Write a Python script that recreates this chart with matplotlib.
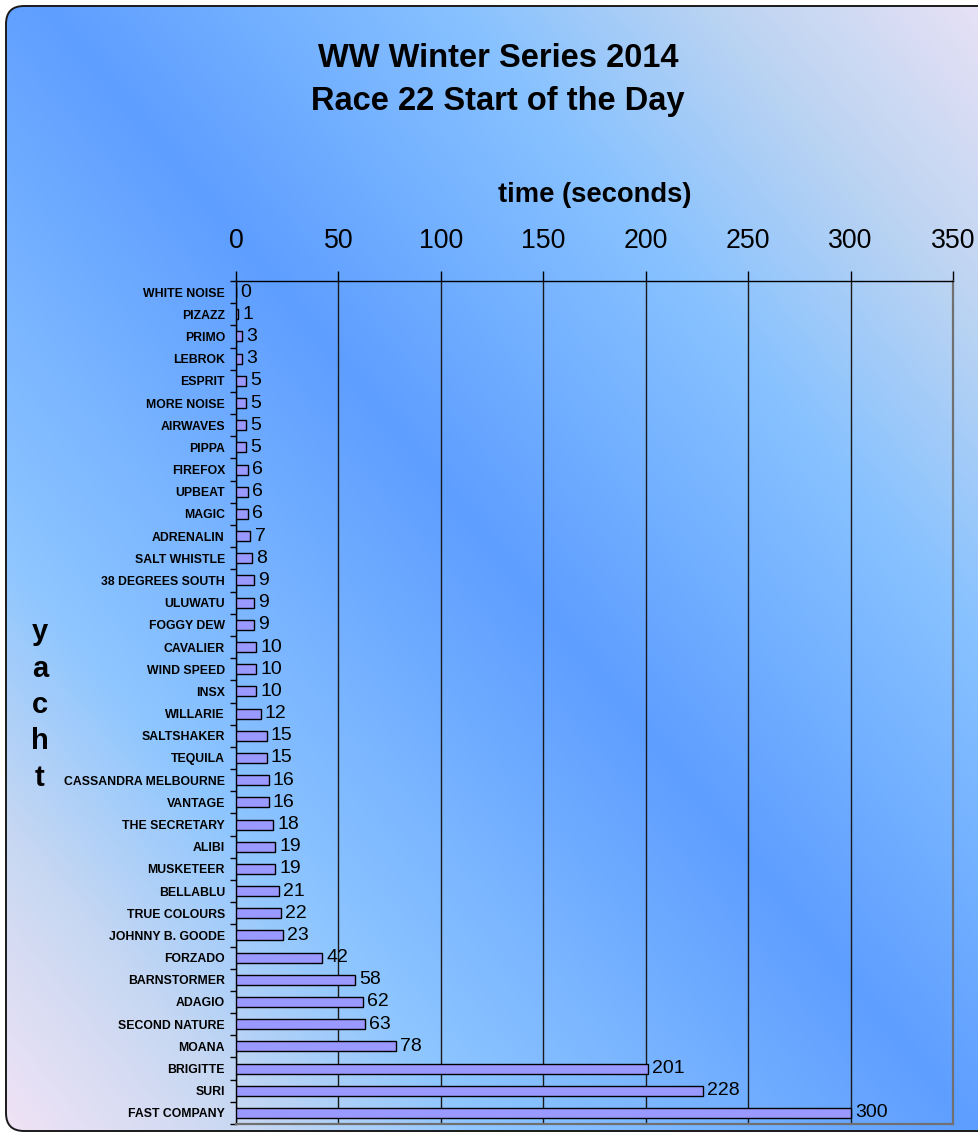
import numpy as np
import matplotlib
matplotlib.use("Agg")
import matplotlib.pyplot as plt
from matplotlib.patches import FancyBboxPatch
from matplotlib.colors import to_rgb

plt.rcParams['font.family'] = ['Liberation Sans', 'DejaVu Sans']

yachts = ["WHITE NOISE", "PIZAZZ", "PRIMO", "LEBROK", "ESPRIT", "MORE NOISE",
          "AIRWAVES", "PIPPA", "FIREFOX", "UPBEAT", "MAGIC", "ADRENALIN",
          "SALT WHISTLE", "38 DEGREES SOUTH", "ULUWATU", "FOGGY DEW", "CAVALIER",
          "WIND SPEED", "INSX", "WILLARIE", "SALTSHAKER", "TEQUILA",
          "CASSANDRA MELBOURNE", "VANTAGE", "THE SECRETARY", "ALIBI", "MUSKETEER",
          "BELLABLU", "TRUE COLOURS", "JOHNNY B. GOODE", "FORZADO", "BARNSTORMER",
          "ADAGIO", "SECOND NATURE", "MOANA", "BRIGITTE", "SURI", "FAST COMPANY"]
seconds = [0, 1, 3, 3, 5, 5, 5, 5, 6, 6, 6, 7, 8, 9, 9, 9, 10, 10, 10, 12,
           15, 15, 16, 16, 18, 19, 19, 21, 22, 23, 42, 58, 62, 63, 78, 201, 228, 300]
x_ticks = [0, 50, 100, 150, 200, 250, 300, 350]

W, H = 979, 1133
fig = plt.figure(figsize=(W / 100, H / 100), dpi=100, facecolor='white')

# ---- background gradient inside rounded frame ----
bg = fig.add_axes([0, 0, 1, 1], zorder=-10)
bg.set_xlim(0, W)
bg.set_ylim(H, 0)
bg.axis('off')
xx, yy = np.meshgrid(np.arange(W), np.arange(H))
s = 0.771 * (xx - 110) - 0.637 * (yy - 83)
stops_s = [-800, -560, -380, 0, 320, 520, 760]
stops_c = ["#fce6f6", "#c8d8f2", "#8ec6ff", "#5e9eff", "#88c2ff", "#bcd4f2", "#f0e4f6"]
rgb = np.array([to_rgb(c) for c in stops_c])
img = np.stack([np.interp(s, stops_s, rgb[:, k]) for k in range(3)], axis=-1)
im = bg.imshow(img, extent=(0, W, H, 0), aspect='auto', interpolation='bilinear')
frame = FancyBboxPatch((6, 6), W + 20, H - 8, boxstyle="round,pad=0,rounding_size=18",
                       facecolor='none', edgecolor='#1a1a1a', linewidth=1.4,
                       transform=bg.transData)
bg.add_patch(frame)
im.set_clip_path(frame)

# ---- main axes ----
left, right, top, bottom = 236, 953, 281, 1124
ax = fig.add_axes([left / W, 1 - bottom / H, (right - left) / W, (bottom - top) / H])
ax.patch.set_alpha(0)

y = np.arange(len(yachts))
ax.barh(y, seconds, height=0.45, color='#9999ff', edgecolor='black', linewidth=1.0, zorder=3)
for yi, v in zip(y, seconds):
    ax.annotate(str(v), (v, yi), xytext=(3, 0), textcoords='offset points',
                va='center', ha='left', fontsize=14, zorder=4)

ax.set_xlim(0, 350)
ax.set_ylim(len(yachts) - 0.5, -0.5)
ax.set_xticks(x_ticks)
ax.set_yticks(y)
ax.set_yticklabels(yachts, fontsize=8.8, fontweight='bold')
ax.set_yticks(np.arange(len(yachts) + 1) - 0.5, minor=True)

ax.xaxis.tick_top()
ax.xaxis.set_label_position('top')
ax.tick_params(axis='x', which='major', direction='out', length=7, width=1,
               pad=12.5, labelsize=19.3, color='black')
ax.tick_params(axis='y', which='major', length=0, pad=8)
ax.tick_params(axis='y', which='minor', direction='out', length=4, width=1, color='black')
ax.tick_params(axis='x', which='minor', length=0)

ax.grid(axis='x', color='#1a1a1a', linewidth=1.0, zorder=1)
ax.set_axisbelow(True)
for side in ['top', 'left']:
    ax.spines[side].set_color('black')
    ax.spines[side].set_linewidth(1.0)
for side in ['right', 'bottom']:
    ax.spines[side].set_color('#707070')
    ax.spines[side].set_linewidth(1.6)

ax.set_xlabel('time (seconds)', fontsize=19.7, fontweight='bold', labelpad=19)

fig.text(498 / W, 1 - 80 / H, 'WW Winter Series 2014\nRace 22 Start of the Day',
         ha='center', va='center', fontsize=23.5, fontweight='bold', linespacing=1.47)
fig.text(40 / W, 1 - 705 / H, 'y\na\nc\nh\nt', ha='center', va='center',
         fontsize=21, fontweight='bold', linespacing=1.38)

fig.savefig('out.png', dpi=100, facecolor='white')
